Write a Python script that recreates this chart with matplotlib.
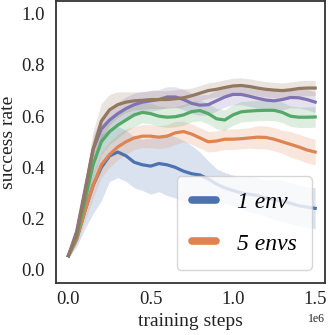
import numpy as np
import matplotlib
matplotlib.use('Agg')
import matplotlib.pyplot as plt

# training steps (x 1e6)
steps = [0.00, 0.05, 0.10, 0.15, 0.20, 0.25, 0.30, 0.35, 0.40, 0.45,
         0.50, 0.55, 0.60, 0.65, 0.70, 0.75, 0.80, 0.85, 0.90, 0.95,
         1.00, 1.05, 1.10, 1.15, 1.20, 1.25, 1.30, 1.35, 1.40, 1.45, 1.50]

# mean success rate per run
env1 = [0.055, 0.12, 0.23, 0.33, 0.40, 0.445, 0.46, 0.445, 0.42, 0.41,
        0.405, 0.415, 0.41, 0.40, 0.385, 0.375, 0.37, 0.355, 0.335, 0.32,
        0.31, 0.30, 0.295, 0.29, 0.28, 0.275, 0.27, 0.26, 0.25, 0.245, 0.24]
env5 = [0.055, 0.12, 0.23, 0.33, 0.41, 0.45, 0.48, 0.50, 0.515, 0.522,
        0.522, 0.518, 0.522, 0.535, 0.54, 0.53, 0.515, 0.50, 0.503, 0.51,
        0.51, 0.512, 0.515, 0.518, 0.517, 0.51, 0.50, 0.49, 0.48, 0.468, 0.46]
green = [0.055, 0.13, 0.27, 0.41, 0.50, 0.54, 0.565, 0.585, 0.605, 0.615,
         0.61, 0.60, 0.596, 0.598, 0.605, 0.618, 0.622, 0.61, 0.59, 0.585,
         0.605, 0.617, 0.62, 0.622, 0.623, 0.623, 0.615, 0.60, 0.596, 0.596, 0.597]
purple = [0.055, 0.15, 0.31, 0.47, 0.55, 0.585, 0.61, 0.63, 0.645, 0.655,
          0.66, 0.665, 0.675, 0.675, 0.665, 0.65, 0.643, 0.645, 0.66, 0.675,
          0.685, 0.685, 0.678, 0.67, 0.663, 0.66, 0.665, 0.673, 0.672, 0.665, 0.655]
brown = [0.055, 0.14, 0.30, 0.47, 0.58, 0.625, 0.645, 0.655, 0.66, 0.662,
         0.665, 0.665, 0.665, 0.668, 0.672, 0.68, 0.69, 0.70, 0.705, 0.712,
         0.718, 0.72, 0.716, 0.71, 0.705, 0.702, 0.70, 0.703, 0.708, 0.71, 0.71]

# spread (std) per run
env1_sd = [0.01, 0.03, 0.07, 0.11, 0.13, 0.10, 0.10, 0.10, 0.10, 0.10,
           0.11, 0.11, 0.12, 0.12, 0.12, 0.11, 0.09, 0.07, 0.06, 0.06,
           0.06, 0.06, 0.07, 0.07, 0.07, 0.08, 0.08, 0.08, 0.08, 0.08, 0.08]
env5_sd = [0.01, 0.02, 0.04, 0.05, 0.05, 0.05, 0.05, 0.05, 0.045, 0.045,
           0.045, 0.045, 0.045, 0.045, 0.04, 0.04, 0.04, 0.04, 0.04, 0.04,
           0.04, 0.04, 0.04, 0.045, 0.045, 0.045, 0.045, 0.05, 0.05, 0.05, 0.05]
green_sd = [0.01, 0.02, 0.04, 0.05, 0.05, 0.05, 0.05, 0.045, 0.045, 0.04,
            0.04, 0.04, 0.04, 0.04, 0.04, 0.04, 0.04, 0.04, 0.04, 0.04,
            0.04, 0.04, 0.04, 0.04, 0.04, 0.04, 0.04, 0.04, 0.04, 0.04, 0.04]
purple_sd = [0.01, 0.02, 0.04, 0.05, 0.05, 0.05, 0.045, 0.045, 0.045, 0.04,
             0.04, 0.04, 0.04, 0.04, 0.04, 0.04, 0.04, 0.04, 0.04, 0.04,
             0.04, 0.04, 0.04, 0.04, 0.04, 0.04, 0.04, 0.04, 0.04, 0.04, 0.04]
brown_sd = [0.01, 0.02, 0.05, 0.07, 0.07, 0.06, 0.05, 0.04, 0.035, 0.035,
            0.035, 0.035, 0.035, 0.035, 0.035, 0.03, 0.03, 0.03, 0.03, 0.03,
            0.03, 0.03, 0.03, 0.03, 0.03, 0.03, 0.03, 0.03, 0.03, 0.03, 0.03]

labels = ['1 env', '5 envs', None, None, None]
colors = ['#4C72B0', '#DD8452', '#55A868', '#8172B3', '#937860']

plt.rcParams['font.family'] = ['Liberation Serif', 'DejaVu Serif']

fig = plt.figure(figsize=(3.28, 3.35), dpi=100)
ax = fig.add_axes([0.171, 0.155, 0.82, 0.842])

x = np.array(steps) * 1e6
runs = [env1, env5, green, purple, brown]
sds = [env1_sd, env5_sd, green_sd, purple_sd, brown_sd]
for m, s, c, lab in zip(runs, sds, colors, labels):
    m = np.array(m)
    s = np.array(s)
    ax.fill_between(x, m - s, m + s, color=c, alpha=0.2, lw=0)
    ax.plot(x, m, color=c, lw=2.3, label=lab)

ax.set_xlim(-0.075e6, 1.56e6)
ax.set_ylim(-0.052, 1.05)
ax.set_xticks([0, 0.5e6, 1.0e6, 1.5e6])
ax.set_yticks([0.0, 0.2, 0.4, 0.6, 0.8, 1.0])
ax.tick_params(length=0, labelsize=13.5, colors='#222222')
ax.tick_params(axis='y', pad=8)
ax.tick_params(axis='x', pad=6)
ax.xaxis.get_offset_text().set_fontsize(8.5)
for sp in ax.spines.values():
    sp.set_color('#333333')
    sp.set_linewidth(1.3)
ax.set_xlabel('training steps', fontsize=14, labelpad=3, color='#222222')
ax.set_ylabel('success rate', fontsize=14, labelpad=3, color='#222222')

handles, labs = ax.get_legend_handles_labels()
leg = ax.legend(handles, labs, loc='lower right',
                prop={'style': 'italic', 'size': 17},
                handlelength=1.0, handletextpad=0.9, borderpad=0.65,
                labelspacing=0.85, borderaxespad=0.55,
                framealpha=0.8, edgecolor='#cccccc')
for h in leg.get_lines():
    h.set_linewidth(5.5)
    h.set_solid_capstyle('round')

fig.savefig('out.png', dpi=100)
